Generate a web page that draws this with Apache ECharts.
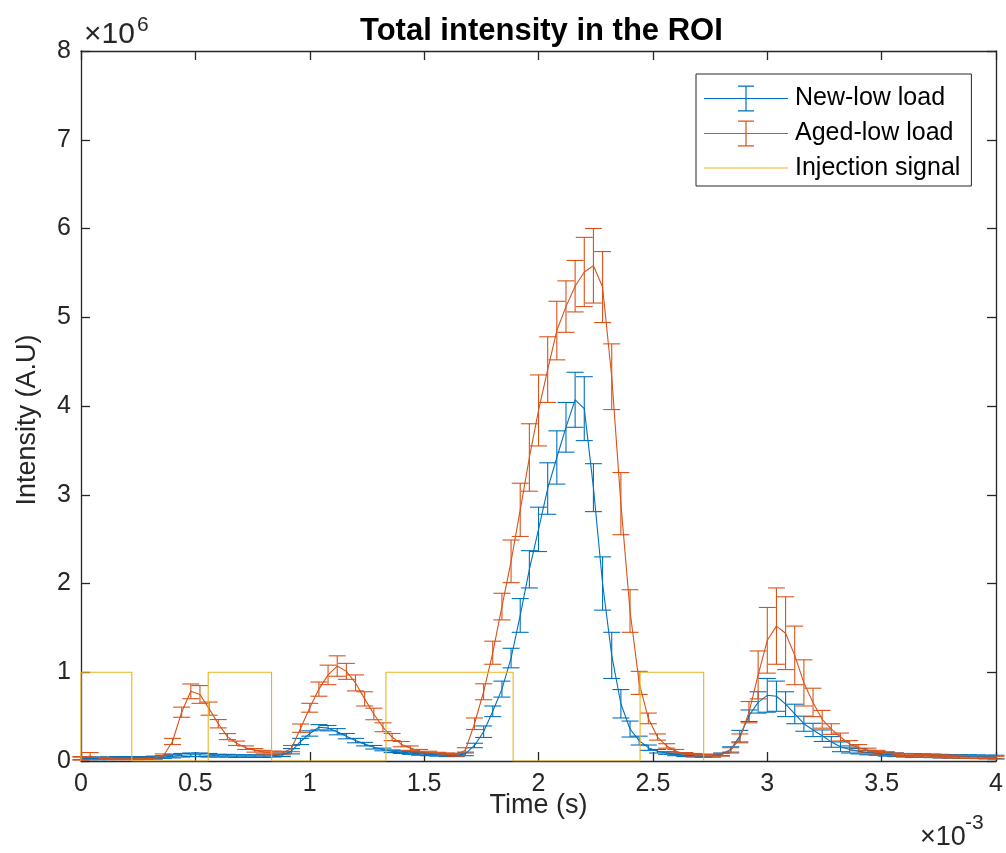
<!DOCTYPE html>
<html><head><meta charset="utf-8">
<script src="https://cdn.jsdelivr.net/npm/echarts@6/dist/echarts.min.js"></script>
<style>html,body{margin:0;padding:0;background:#fff}#c{width:1006px;height:853px}</style>
</head><body><div id="c"></div>
<script>
// Time in ms (axis shows x10^-3 s)
const timeMs = [
  0.00,0.04,0.08,0.12,0.16,0.20,0.24,0.28,0.32,0.36,
  0.40,0.44,0.48,0.52,0.56,0.60,0.64,0.68,0.72,0.76,
  0.80,0.84,0.88,0.92,0.96,1.00,1.04,1.08,1.12,1.16,
  1.20,1.24,1.28,1.32,1.36,1.40,1.44,1.48,1.52,1.56,
  1.60,1.64,1.68,1.72,1.76,1.80,1.84,1.88,1.92,1.96,
  2.00,2.04,2.08,2.12,2.16,2.20,2.24,2.28,2.32,2.36,
  2.40,2.44,2.48,2.52,2.56,2.60,2.64,2.68,2.72,2.76,
  2.80,2.84,2.88,2.92,2.96,3.00,3.04,3.08,3.12,3.16,
  3.20,3.24,3.28,3.32,3.36,3.40,3.44,3.48,3.52,3.56,
  3.60,3.64,3.68,3.72,3.76,3.80,3.84,3.88,3.92,3.96,
  4.00
];
// Intensity in units of 1e6
const newLow = [
  0.03,0.03,0.03,0.03,0.035,0.035,0.035,0.035,0.04,0.045,
  0.055,0.065,0.07,0.07,0.065,0.06,0.06,0.055,0.055,0.055,
  0.055,0.06,0.07,0.11,0.22,0.31,0.38,0.37,0.33,0.28,
  0.23,0.19,0.155,0.13,0.11,0.10,0.09,0.08,0.075,0.07,
  0.065,0.065,0.08,0.175,0.33,0.56,0.81,1.16,1.64,2.16,
  2.61,3.07,3.42,3.76,4.07,3.97,3.08,2.00,1.19,0.645,
  0.36,0.23,0.15,0.11,0.09,0.075,0.065,0.06,0.055,0.06,
  0.075,0.13,0.28,0.51,0.66,0.74,0.73,0.64,0.53,0.42,
  0.35,0.285,0.215,0.16,0.13,0.11,0.095,0.085,0.075,0.07,
  0.065,0.062,0.06,0.058,0.055,0.053,0.05,0.05,0.048,0.046,
  0.045
];
const newLowErr = [
  0.015,0.015,0.015,0.015,0.015,0.015,0.015,0.015,0.015,0.015,
  0.02,0.02,0.02,0.02,0.02,0.015,0.015,0.015,0.015,0.015,
  0.015,0.015,0.02,0.03,0.035,0.03,0.03,0.03,0.035,0.03,
  0.025,0.02,0.02,0.015,0.015,0.015,0.015,0.015,0.015,0.015,
  0.015,0.015,0.02,0.025,0.065,0.06,0.09,0.11,0.19,0.21,
  0.25,0.29,0.30,0.28,0.31,0.36,0.27,0.30,0.26,0.16,
  0.09,0.05,0.03,0.02,0.015,0.015,0.015,0.015,0.015,0.015,
  0.015,0.03,0.065,0.065,0.12,0.19,0.17,0.14,0.11,0.085,
  0.075,0.065,0.06,0.055,0.04,0.03,0.025,0.02,0.02,0.02,
  0.02,0.02,0.02,0.02,0.02,0.02,0.02,0.02,0.02,0.02,
  0.02
];
const agedLow = [
  0.03,0.055,0.03,0.03,0.025,0.025,0.025,0.03,0.03,0.06,
  0.22,0.55,0.785,0.75,0.59,0.42,0.275,0.20,0.15,0.12,
  0.10,0.09,0.09,0.14,0.37,0.60,0.81,0.97,1.07,1.01,
  0.88,0.70,0.53,0.38,0.27,0.19,0.145,0.11,0.095,0.083,
  0.076,0.07,0.12,0.42,0.78,1.22,1.74,2.25,2.83,3.42,
  3.95,4.41,4.85,5.12,5.35,5.51,5.58,5.34,4.33,2.90,
  1.69,0.88,0.48,0.27,0.17,0.11,0.08,0.07,0.06,0.06,
  0.07,0.12,0.255,0.55,0.97,1.36,1.52,1.44,1.19,0.88,
  0.66,0.47,0.36,0.27,0.19,0.15,0.12,0.10,0.09,0.075,
  0.068,0.062,0.058,0.055,0.052,0.05,0.048,0.045,0.043,0.04,
  0.038
];
const agedLowErr = [
  0.02,0.04,0.01,0.01,0.01,0.01,0.01,0.01,0.01,0.02,
  0.035,0.057,0.083,0.10,0.074,0.047,0.034,0.025,0.02,0.02,
  0.02,0.02,0.02,0.035,0.047,0.05,0.08,0.11,0.115,0.09,
  0.09,0.08,0.065,0.05,0.04,0.03,0.025,0.02,0.015,0.015,
  0.015,0.015,0.03,0.065,0.09,0.13,0.15,0.24,0.30,0.38,
  0.40,0.37,0.33,0.29,0.29,0.39,0.42,0.40,0.37,0.35,
  0.24,0.13,0.06,0.035,0.025,0.02,0.015,0.015,0.015,0.015,
  0.015,0.03,0.05,0.12,0.27,0.37,0.43,0.41,0.33,0.26,
  0.16,0.10,0.06,0.045,0.04,0.035,0.025,0.02,0.015,0.015,
  0.015,0.015,0.015,0.015,0.015,0.015,0.015,0.015,0.015,0.015,
  0.015
];
// Injection signal (step), time in ms, value in 1e6
const injTime  = [0,0,0.222,0.222,0.556,0.556,0.833,0.833,1.333,1.333,1.889,1.889,2.444,2.444,2.722,2.722];
const injValue = [0,1,1,0,0,1,1,0,0,1,1,0,0,1,1,0];

const xTickLabels = ['0','0.5','1','1.5','2','2.5','3','3.5','4'];
const yTickLabels = ['0','1','2','3','4','5','6','7','8'];
const seriesNames = ['New-low load','Aged-low load','Injection signal'];

const FONT = 'Liberation Sans, Arial, Helvetica, sans-serif';
const AX = '#262626';
const C_BLUE = '#0072BD', C_ORANGE = '#D95319', C_YELLOW = '#EDB120';

function errSeries(name, vals, errs, color) {
  return {
    type: 'custom', name: name,
    data: timeMs.map((t, i) => [t, vals[i] - errs[i], vals[i] + errs[i]]),
    encode: { x: 0, y: [1, 2] },
    renderItem: function (params, api) {
      const x = api.value(0), lo = api.value(1), hi = api.value(2);
      const a = api.coord([x, lo]), b = api.coord([x, hi]);
      const hw = 8.5;
      const st = { stroke: color, lineWidth: 1.1, fill: null };
      return { type: 'group', children: [
        { type: 'line', shape: { x1: a[0], y1: a[1], x2: b[0], y2: b[1] }, style: st },
        { type: 'line', shape: { x1: a[0] - hw, y1: a[1], x2: a[0] + hw, y2: a[1] }, style: st },
        { type: 'line', shape: { x1: b[0] - hw, y1: b[1], x2: b[0] + hw, y2: b[1] }, style: st }
      ]};
    },
    silent: true
  };
}
function lineSeries(name, xs, ys, color) {
  return {
    type: 'line', name: name, data: xs.map((t, i) => [t, ys[i]]),
    showSymbol: false, symbol: 'none',
    lineStyle: { color: color, width: 1.1 }, itemStyle: { color: color },
    silent: true
  };
}

const ebIcon = 'path://M0,12.4 L84,12.4 L84,13.6 L0,13.6 Z M41.4,0 L42.6,0 L42.6,26 L41.4,26 Z M34,0 L50,0 L50,1.2 L34,1.2 Z M34,24.8 L50,24.8 L50,26 L34,26 Z';
const lnIcon = 'path://M0,0 L84,0 L84,1.2 L0,1.2 Z';

const chart = echarts.init(document.getElementById('c'), null, { renderer: 'canvas' });
const axisCommon = {
  type: 'value', min: 0,
  axisLine: { show: true, onZero: false, lineStyle: { color: AX, width: 1.3 } },
  axisTick: { show: true, inside: true, length: 9, lineStyle: { color: AX, width: 1.3 } },
  splitLine: { show: false }
};
chart.setOption({
  animation: false,
  backgroundColor: '#fff',
  title: {
    text: 'Total intensity in the ROI', left: 355, top: 11,
    textStyle: { fontFamily: FONT, fontSize: 31, fontWeight: 'bold', color: '#000' }
  },
  grid: { left: 81, right: 9, top: 51, bottom: 92, containLabel: false },
  xAxis: [
    Object.assign({}, axisCommon, {
      position: 'bottom', max: 4, interval: 0.5,
      name: 'Time (s)', nameLocation: 'middle', nameGap: 31, nameMoveOverlap: false,
      nameTextStyle: { fontFamily: FONT, fontSize: 27, color: AX },
      axisLabel: { show: true, margin: 11, fontFamily: FONT, fontSize: 25, color: AX,
        showMinLabel: true, showMaxLabel: true,
        formatter: (v, i) => xTickLabels[i] }
    }),
    Object.assign({}, axisCommon, {
      position: 'top', max: 4, interval: 0.5, axisLabel: { show: false }
    })
  ],
  yAxis: [
    Object.assign({}, axisCommon, {
      position: 'left', max: 8, interval: 1,
      name: 'Intensity (A.U)', nameLocation: 'middle', nameGap: 40, nameRotate: 90, nameMoveOverlap: false,
      nameTextStyle: { fontFamily: FONT, fontSize: 27, color: AX, padding: [0, 28, 0, 0] },
      axisLabel: { show: true, margin: 10, fontFamily: FONT, fontSize: 25, color: AX,
        showMinLabel: true, showMaxLabel: true,
        formatter: (v, i) => yTickLabels[i] }
    }),
    Object.assign({}, axisCommon, {
      position: 'right', max: 8, interval: 1, axisLabel: { show: false }
    })
  ],
  legend: {
    orient: 'vertical', left: 696, top: 74,
    padding: [11.5, 11, 5.5, 8], itemGap: 9, itemWidth: 84, itemHeight: 26,
    backgroundColor: '#fff', borderColor: AX, borderWidth: 1,
    symbolKeepAspect: true,
    itemStyle: { borderWidth: 0 },
    textStyle: { fontFamily: FONT, fontSize: 25, color: '#000', padding: [0, 0, 0, 2] },
    selectedMode: false,
    data: [
      { name: seriesNames[0], icon: ebIcon },
      { name: seriesNames[1], icon: ebIcon },
      { name: seriesNames[2], icon: lnIcon }
    ]
  },
  graphic: [
    { type: 'text', x: 84, y: 20, style: { text: '\u00d710', fontFamily: FONT, fontSize: 30, fill: AX } },
    { type: 'text', x: 137, y: 15, style: { text: '6', fontFamily: FONT, fontSize: 21, fill: AX } },
    { type: 'text', x: 920, y: 824, style: { text: '\u00d710', fontFamily: FONT, fontSize: 27, fill: AX } },
    { type: 'text', x: 965, y: 813, style: { text: '-3', fontFamily: FONT, fontSize: 21, fill: AX } }
  ],
  series: [
    lineSeries(seriesNames[0], timeMs, newLow, C_BLUE),
    errSeries(seriesNames[0], newLow, newLowErr, C_BLUE),
    lineSeries(seriesNames[1], timeMs, agedLow, C_ORANGE),
    errSeries(seriesNames[1], agedLow, agedLowErr, C_ORANGE),
    lineSeries(seriesNames[2], injTime, injValue, C_YELLOW)
  ]
});
</script></body></html>
